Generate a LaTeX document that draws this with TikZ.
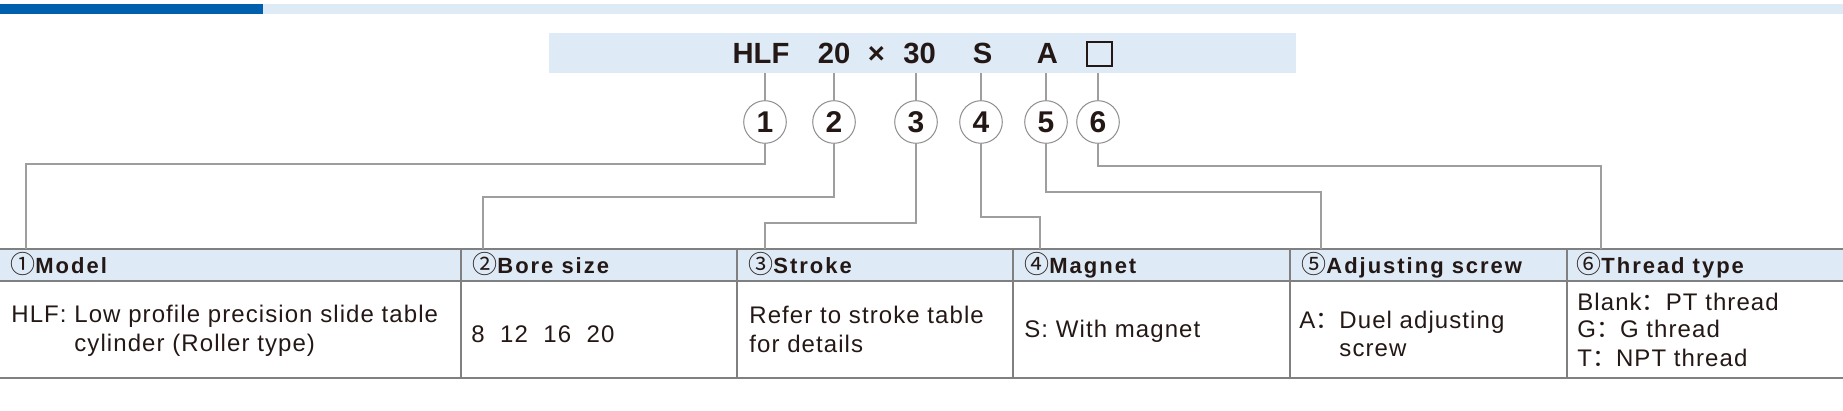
\documentclass[tikz,border=0pt]{standalone}
\usepackage{fontspec}
\setmainfont{Liberation Sans}
\newfontfamily\titlefont{Liberation Sans}
\newfontfamily\headfont[LetterSpace=9]{Liberation Sans}
\newfontfamily\bodyfont[LetterSpace=4.5]{Liberation Sans}
\newfontfamily\cjkfont{Noto Sans CJK SC}
\newcommand\cnum[1]{{\cjkfont\mdseries\fontsize{12.5}{13}\selectfont #1}}
\newcommand\fw[1]{{\cjkfont #1}}
\definecolor{barblue}{HTML}{0060AE}
\definecolor{paleblue}{HTML}{DEEAF6}
\definecolor{ink}{HTML}{231815}
\definecolor{circgray}{HTML}{8C8C8C}
\definecolor{leadgray}{HTML}{9E9E9E}
\definecolor{rulegray}{HTML}{808080}
\tikzset{
    code diagram/.style = {x=0.5pt, y=-0.5pt, text=ink},
    band/.style         = {fill=paleblue, draw=none, inner sep=0pt},
    code/.style         = {anchor=base, inner sep=0pt,
                           font=\titlefont\bfseries\fontsize{14.6}{16}\selectfont},
    badge/.style        = {draw=circgray, line width=0.5pt, circle,
                           minimum size=21.3pt, inner sep=0pt,
                           font=\titlefont\bfseries\fontsize{15}{16}\selectfont},
    leader/.style       = {draw=leadgray, line width=0.55pt},
    rule/.style         = {draw=rulegray, line width=0.65pt},
    head/.style         = {anchor=base west, inner sep=0pt,
                           font=\headfont\bfseries\fontsize{11}{12}\selectfont},
    cell/.style         = {anchor=base west, inner sep=0pt, align=left,
                           font=\bodyfont\fontsize{12}{14}\selectfont}
}

\begin{document}
\begin{tikzpicture}[code diagram]
\useasboundingbox (0,0) rectangle (1843,411);

% Top rule
\fill[barblue] (0,4) rectangle (263,14);
\fill[paleblue] (263,4) rectangle (1843,14);

% Ordering code
\node[band, minimum width=373.5pt, minimum height=20pt] (band) at (922.5,53) {};
\node[code] (hlf) at (761,64) {HLF};
\node[code] (bore) at (834,64) {20};
\node[code] (times) at (876.5,64) {×};
\node[code] (stroke) at (919.5,64) {30};
\node[code] (mag) at (982.5,64) {S};
\node[code] (adj) at (1047.5,64) {A};
\node[draw=ink, line width=0.7pt, minimum width=12.5pt, minimum height=12pt,
      inner sep=0pt] (thr) at (1099.5,54) {};

% Numbered badges
\foreach \i/\x in {1/765, 2/834, 3/916, 4/981, 5/1046, 6/1098}
    \node[badge] (c\i) at (\x,122) {\i};
\foreach \i in {1,...,6}
    \draw[leader] (c\i |- band.south) -- (c\i.north);

% Table
\fill[paleblue] (0,249) rectangle (1843,281);
\draw[rule] (0,249) -- (1843,249) (0,281) -- (1843,281) (0,378) -- (1843,378);
\foreach \x in {461,737,1013,1290,1567}
    \draw[rule] (\x,249) -- (\x,378);

% Leaders down to the columns
\foreach \i/\x/\y in {1/26/164, 2/483/197, 3/765/223, 4/1040/217, 5/1321/192, 6/1601/166} {
    \coordinate (p\i) at (\x,249);
    \draw[leader] (c\i.south) |- (\x,\y) -- (p\i);
}

% Column heads
\node[head] (h1) at (10,274) {\cnum{①}Model};
\node[head] (h2) at (472,274) {\cnum{②}Bore size};
\node[head] (h3) at (748,274) {\cnum{③}Stroke};
\node[head] (h4) at (1024,274) {\cnum{④}Magnet};
\node[head] (h5) at (1301,274) {\cnum{⑤}Adjusting screw};
\node[head] (h6) at (1576,274) {\cnum{⑥}Thread type};

% Cells (anchored on the last line)
\node[cell] (b1) at (11,351) {HLF: Low profile precision slide table\\\phantom{HLF: }cylinder (Roller type)};
\node[cell] (b2) at (471,343) {8~~12~~16~~20};
\node[cell] (b3) at (749,352) {Refer to stroke table\\for details};
\node[cell] (b4) at (1024,338) {S: With magnet};
\node[cell] (b5) at (1299,357) {A\fw{：}Duel adjusting\\\phantom{A\fw{：}}screw};
\node[cell] (b6) at (1577,366) {Blank\fw{：}PT thread\\G\fw{：}G thread\\T\fw{：}NPT thread};

\end{tikzpicture}
\end{document}
